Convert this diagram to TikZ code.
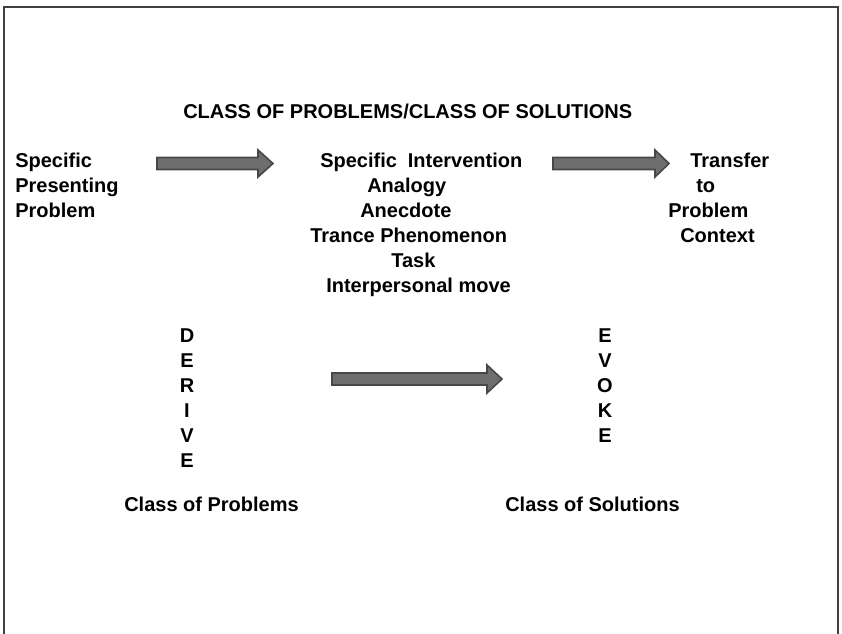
\documentclass[tikz,border=0pt]{standalone}
\usepackage{fontspec}
\setmainfont{Liberation Sans}
\begin{document}
\begin{tikzpicture}[x=0.75pt,y=-0.75pt,
  lbl/.style={inner sep=0pt,anchor=base west,font=\fontsize{15}{18}\selectfont\bfseries},
  ltr/.style={inner sep=0pt,anchor=base,font=\fontsize{15}{18}\selectfont\bfseries},
  blockarrow/.style={fill=black!57,draw=black!72,line width=1.2pt,line join=miter}]
\useasboundingbox (0,0) rectangle (842,633);
\clip (0,0) rectangle (842,633);
\fill[white] (0,0) rectangle (842,633);
\draw[line width=2pt,draw=black!75] (4,660) -- (4,7) -- (838,7) -- (838,660);
% title
\node[lbl] (title) at (183,118) {CLASS OF PROBLEMS/CLASS OF SOLUTIONS};
% left
\node[lbl] (l1) at (15,167) {Specific};
\node[lbl] (l2) at (15,192) {Presenting};
\node[lbl] (l3) at (15,217) {Problem};
% centre
\node[lbl] (c1) at (320,167) {Specific\hspace{4pt} Intervention};
\node[lbl] (c2) at (367,192) {Analogy};
\node[lbl] (c3) at (360,217) {Anecdote};
\node[lbl] (c4) at (310,242) {Trance Phenomenon};
\node[lbl] (c5) at (391,267) {Task};
\node[lbl] (c6) at (326,292) {Interpersonal move};
% right
\node[lbl] (r1) at (690,167) {Transfer};
\node[lbl] (r2) at (696,192) {to};
\node[lbl] (r3) at (668,217) {Problem};
\node[lbl] (r4) at (680,242) {Context};
% DERIVE
\foreach \ch [count=\i from 0] in {D,E,R,I,V,E}
  \node[ltr] (d\i) at (187,342+25*\i) {\ch};
% EVOKE
\foreach \ch [count=\i from 0] in {E,V,O,K,E}
  \node[ltr] (e\i) at (605,342+25*\i) {\ch};
% bottom labels
\node[lbl] (cp) at (124,511) {Class of Problems};
\node[lbl] (cs) at (505,511) {Class of Solutions};
% block arrows
\draw[blockarrow] (157,157.5) -- (258,157.5) -- (258,150) -- (273,163.5) -- (258,177) -- (258,169.5) -- (157,169.5) -- cycle;
\draw[blockarrow] (553,157.5) -- (655,157.5) -- (655,150) -- (669,163.5) -- (655,177) -- (655,169.5) -- (553,169.5) -- cycle;
\draw[blockarrow] (332,373) -- (487,373) -- (487,365) -- (502,379) -- (487,393) -- (487,385) -- (332,385) -- cycle;
\end{tikzpicture}
\end{document}
